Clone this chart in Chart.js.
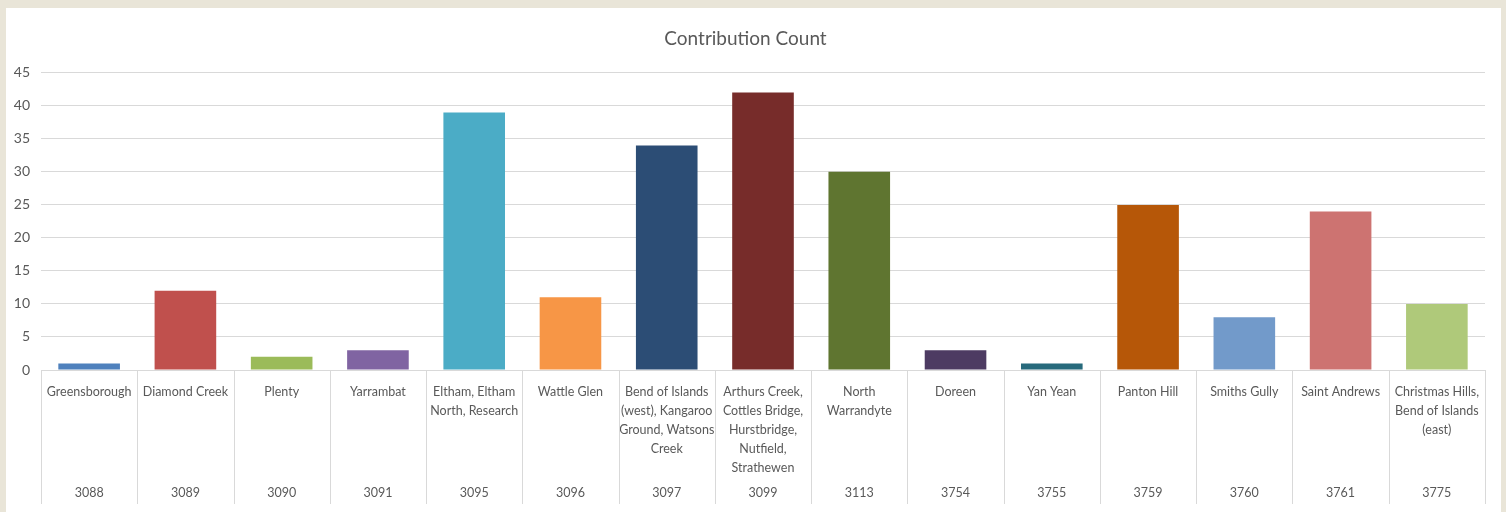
<!DOCTYPE html>
<html>
<head>
<meta charset="utf-8">
<script src="https://cdn.jsdelivr.net/npm/chart.js@4.4.1/dist/chart.umd.min.js"></script>
<style>
  html, body { margin: 0; padding: 0; background: #E9E5D8; width: 1506px; height: 512px; overflow: hidden; }
  #wrap { position: absolute; left: 6px; top: 8px; width: 1495px; height: 504px; background: #FFFFFF; }
  canvas { display: block; }
</style>
</head>
<body>
<div id="wrap"><canvas id="c" width="1495" height="504"></canvas></div>
<script>
const suburbs = [
  ["Greensborough"],
  ["Diamond Creek"],
  ["Plenty"],
  ["Yarrambat"],
  ["Eltham, Eltham", "North, Research"],
  ["Wattle Glen"],
  ["Bend of Islands", "(west), Kangaroo", "Ground, Watsons", "Creek"],
  ["Arthurs Creek,", "Cottles Bridge,", "Hurstbridge,", "Nutfield,", "Strathewen"],
  ["North", "Warrandyte"],
  ["Doreen"],
  ["Yan Yean"],
  ["Panton Hill"],
  ["Smiths Gully"],
  ["Saint Andrews"],
  ["Christmas Hills,", "Bend of Islands", "(east)"]
];
const postcodes = ["3088","3089","3090","3091","3095","3096","3097","3099","3113","3754","3755","3759","3760","3761","3775"];
const counts = [1, 12, 2, 3, 39, 11, 34, 42, 30, 3, 1, 25, 8, 24, 10];
const barColors = ["#4F81BD","#C0504D","#9BBB59","#8064A2","#4BACC6","#F79646","#2C4D75","#772C2A","#5F7530","#4D3B62","#276A7C","#B65708","#729ACA","#CD7371","#AFC97A"];
const yTicks = { min: 0, max: 45, step: 5 };

const textColor = "#595959";
const lineColor = "#D9D9D9";
const fontFamily = "Lato, 'Open Sans', sans-serif";

const postcodePlugin = {
  id: "postcodes",
  afterDraw(chart) {
    const xs = chart.scales.x;
    const ctx = chart.ctx;
    const area = chart.chartArea;
    const n = postcodes.length;
    const half = (xs.getPixelForValue(1) - xs.getPixelForValue(0)) / 2;
    ctx.save();
    ctx.strokeStyle = lineColor;
    ctx.lineWidth = 1;
    const bottomY = 496;
    for (let i = 0; i <= n; i++) {
      const px = Math.round(i < n ? xs.getPixelForValue(i) - half : xs.getPixelForValue(n - 1) + half) + 0.5;
      ctx.beginPath();
      ctx.moveTo(px, area.bottom);
      ctx.lineTo(px, bottomY);
      ctx.stroke();
    }
    ctx.fillStyle = textColor;
    ctx.font = "12.5px " + fontFamily;
    ctx.textAlign = "center";
    ctx.textBaseline = "middle";
    for (let i = 0; i < n; i++) {
      ctx.fillText(postcodes[i], xs.getPixelForValue(i), 485);
    }
    ctx.restore();
  }
};

new Chart(document.getElementById("c"), {
  type: "bar",
  data: {
    labels: suburbs,
    datasets: [{
      label: "Contribution Count",
      data: counts,
      backgroundColor: barColors,
      borderWidth: 0,
      barPercentage: 0.64,
      categoryPercentage: 1.0
    }]
  },
  options: {
    responsive: false,
    animation: false,
    layout: { padding: { left: 0, right: 16, top: 0, bottom: 0 } },
    plugins: {
      legend: { display: false },
      tooltip: { enabled: false },
      title: {
        display: true,
        text: "Contribution Count",
        color: textColor,
        font: { family: fontFamily, size: 19, weight: "normal" },
        padding: { top: 19, bottom: 23 }
      }
    },
    scales: {
      x: {
        type: "category",
        grid: { display: false },
        border: { display: true, color: lineColor, width: 1 },
        ticks: {
          color: textColor,
          font: { family: fontFamily, size: 12.5, lineHeight: 1.52 },
          maxRotation: 0,
          minRotation: 0,
          autoSkip: false,
          padding: 4
        },
        afterFit(scale) { scale.height = 142; }
      },
      y: {
        min: yTicks.min,
        max: yTicks.max,
        grid: { color: lineColor, lineWidth: 1, drawTicks: false },
        border: { display: false },
        ticks: {
          stepSize: yTicks.step,
          color: textColor,
          font: { family: fontFamily, size: 14 },
          padding: 11
        },
        afterFit(scale) { scale.width = 35; }
      }
    }
  },
  plugins: [postcodePlugin]
});
</script>
</body>
</html>
